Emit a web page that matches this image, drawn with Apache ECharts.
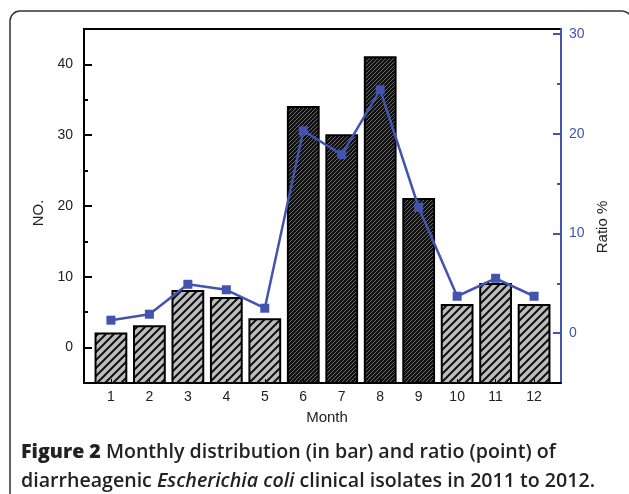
<!DOCTYPE html>
<html>
<head>
<meta charset="utf-8">
<script src="https://cdn.jsdelivr.net/npm/echarts@6/dist/echarts.min.js"></script>
<style>
  html, body { margin: 0; padding: 0; background: #fff; }
  #main { width: 629px; height: 494px; }
</style>
</head>
<body>
<div id="main"></div>
<script>
// month numbers, counts (bars), ratio % (points)
var months = [1, 2, 3, 4, 5, 6, 7, 8, 9, 10, 11, 12];
var counts = [2, 3, 8, 7, 4, 34, 30, 41, 21, 6, 9, 6];
var ratios = [1.3, 1.9, 4.9, 4.35, 2.5, 20.3, 17.9, 24.4, 12.6, 3.7, 5.5, 3.7];
var darkMonths = [6, 7, 8, 9];
var leftTicks = [0, 10, 20, 30, 40];
var leftMinor = [5, 15, 25, 35];
var rightTicks = [0, 10, 20, 30];
var rightMinor = [5, 15, 25];

var blue = '#4054b0';
var font = 'Liberation Sans';

function hatch(size, bg, fg, lw) {
	var c = document.createElement('canvas');
	c.width = size; c.height = size;
	var ctx = c.getContext('2d');
	ctx.fillStyle = bg;
	ctx.fillRect(0, 0, size, size);
	ctx.strokeStyle = fg;
	ctx.lineWidth = lw;
	ctx.beginPath();
	ctx.moveTo(0, size); ctx.lineTo(size, 0);
	ctx.moveTo(-2, 2); ctx.lineTo(2, -2);
	ctx.moveTo(size - 2, size + 2); ctx.lineTo(size + 2, size - 2);
	ctx.stroke();
	return { image: c, repeat: 'repeat' };
}
var lightFill = hatch(8, '#bdbdbd', '#111', 2);
var darkFill = hatch(4, '#111', '#6a6a6a', 1);

var barData = months.map(function (m, i) { return [m, counts[i]]; });
var lineData = months.map(function (m, i) { return [m, ratios[i]]; });

var myChart = echarts.init(document.getElementById('main'));

var option = {
	animation: false,
	grid: { left: 84, right: 68, top: 29, bottom: 111 },
	xAxis: [{
		type: 'value', min: 0.3, max: 12.7,
		name: 'Month', nameLocation: 'middle', nameGap: 27,
		nameTextStyle: { fontFamily: font, fontSize: 15, color: '#222', padding: [0, 0, 0, 9] },
		axisLine: { onZero: false, lineStyle: { color: '#000', width: 2 } },
		axisTick: { inside: true, length: 4, customValues: months, lineStyle: { color: '#000' } },
		axisLabel: { customValues: months, fontFamily: font, fontSize: 14, color: '#222', margin: 7 },
		splitLine: { show: false },
		z: 5
	}, {
		type: 'value', position: 'top', min: 0.3, max: 12.7,
		axisLine: { onZero: false, lineStyle: { color: '#000', width: 2 } },
		axisTick: { show: false }, axisLabel: { show: false }, splitLine: { show: false }
	}],
	yAxis: [{
		type: 'value', position: 'left', min: -5, max: 45,
		name: 'NO.', nameLocation: 'middle', nameGap: 30,
		nameTextStyle: { fontFamily: font, fontSize: 15, color: '#222', padding: [0, 14, 0, 0] },
		axisLine: { show: true, onZero: false, lineStyle: { color: '#000', width: 2 } },
		axisTick: { inside: true, length: 8, customValues: leftTicks, lineStyle: { color: '#000', width: 2 } },
		axisLabel: { customValues: leftTicks, fontFamily: font, fontSize: 14, color: '#222', margin: 11 },
		splitLine: { show: false },
		z: 5
	}, {
		type: 'value', position: 'right', min: -5, max: 30.5,
		name: 'Ratio %', nameLocation: 'middle', nameGap: 34,
		nameTextStyle: { fontFamily: font, fontSize: 15, color: '#222', padding: [0, 42, 0, 0] },
		axisLine: { show: true, onZero: false, lineStyle: { color: blue, width: 2 } },
		axisTick: { inside: true, length: 8, customValues: rightTicks, lineStyle: { color: blue, width: 2 } },
		axisLabel: { customValues: rightTicks, fontFamily: font, fontSize: 14, color: blue, margin: 8 },
		splitLine: { show: false },
		z: 5
	}, {
		type: 'value', position: 'left', min: -5, max: 45,
		axisLine: { show: false },
		axisTick: { inside: true, length: 4, customValues: leftMinor, lineStyle: { color: '#000', width: 2 } },
		axisLabel: { show: false }, splitLine: { show: false }
	}, {
		type: 'value', position: 'right', min: -5, max: 30.5,
		axisLine: { show: false },
		axisTick: { inside: true, length: 4, customValues: rightMinor, lineStyle: { color: blue, width: 2 } },
		axisLabel: { show: false }, splitLine: { show: false }
	}],
	series: [{
		type: 'custom',
		xAxisIndex: 0, yAxisIndex: 0,
		z: 2,
		renderItem: function (params, api) {
			var m = api.value(0);
			var top = api.coord([m, api.value(1)]);
			var bottom = params.coordSys.y + params.coordSys.height;
			var w = api.size([1, 0])[0] * 0.8;
			var dark = darkMonths.indexOf(m) >= 0;
			return {
				type: 'rect',
				shape: { x: top[0] - w / 2, y: top[1], width: w, height: bottom - top[1] },
				style: { fill: dark ? darkFill : lightFill, stroke: '#000', lineWidth: 2 }
			};
		},
		encode: { x: 0, y: 1 },
		data: barData
	}, {
		type: 'line',
		xAxisIndex: 0, yAxisIndex: 1,
		z: 3,
		data: lineData,
		symbol: 'rect', symbolSize: 9,
		itemStyle: { color: blue },
		lineStyle: { color: blue, width: 2.5 }
	}],
	graphic: [{
		type: 'rect',
		shape: { x: 10, y: 11, width: 622, height: 520, r: 10 },
		style: { fill: 'none', stroke: '#333', lineWidth: 1.5 },
		silent: true
	}, {
		type: 'text',
		left: 21, top: 438,
		style: {
			text: '{b|Figure 2} Monthly distribution (in bar) and ratio (point) of\ndiarrheagenic {i|Escherichia coli} clinical isolates in 2011 to 2012.',
			fontFamily: 'Open Sans', fontSize: 19.6, fontWeight: 600, fill: '#222', lineHeight: 29,
			rich: {
				b: { fontFamily: 'Open Sans', fontSize: 19.6, fontWeight: 800, fill: '#222', lineHeight: 29 },
				i: { fontFamily: 'Open Sans', fontSize: 19.6, fontWeight: 600, fontStyle: 'italic', fill: '#222', lineHeight: 29 }
			}
		}
	}]
};

myChart.setOption(option);
</script>
</body>
</html>
